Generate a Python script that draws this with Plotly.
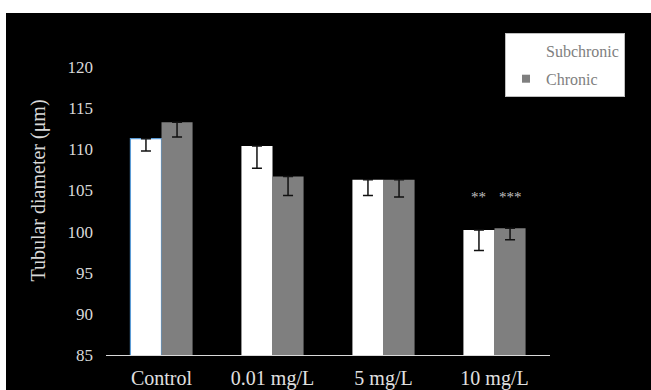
import plotly.graph_objects as go

categories = ["Control", "0.01 mg/L", "5 mg/L", "10 mg/L"]
subchronic = [111.3, 110.4, 106.3, 100.2]
subchronic_err = [1.5, 2.7, 1.9, 2.5]
chronic = [113.3, 106.7, 106.3, 100.4]
chronic_err = [1.8, 2.3, 2.1, 1.4]
sig_labels = ["**", "***"]
y_ticks = [85, 90, 95, 100, 105, 110, 115, 120]

FONT = "Liberation Serif"
L, R, T, B = 106, 101, 26, 35
W, H = 651, 390
pw, ph = W - L - R, H - T - B

fig = go.Figure()
fig.add_trace(go.Bar(
    name="Subchronic", x=categories, y=subchronic, showlegend=False,
    marker=dict(color="#ffffff",
                line=dict(color=["#5b9bd5", "rgba(0,0,0,0)", "rgba(0,0,0,0)", "rgba(0,0,0,0)"], width=1.2)),
    error_y=dict(type="data", symmetric=False, array=[0]*4, arrayminus=subchronic_err,
                 color="#111111", thickness=1.5, width=5),
))
fig.add_trace(go.Bar(
    name="Chronic", x=categories, y=chronic, showlegend=False,
    marker=dict(color="#7f7f7f", line=dict(width=0)),
    error_y=dict(type="data", symmetric=False, array=[0]*4, arrayminus=chronic_err,
                 color="#111111", thickness=1.5, width=5),
))
# legend entries
fig.add_trace(go.Scatter(x=[None], y=[None], name="Subchronic", mode="markers", legendgroup="a",
                         marker=dict(symbol="square", size=8, color="#ffffff")))
fig.add_trace(go.Scatter(x=[None], y=[None], name="Chronic", mode="markers", legendgroup="b",
                         marker=dict(symbol="square", size=8, color="#7f7f7f")))

# significance marks on 10 mg/L
for lab, shift in zip(sig_labels, [-16, 16]):
    fig.add_annotation(x=categories[3], y=104.2, text=lab, showarrow=False, xshift=shift,
                       font=dict(family=FONT, size=15, color="#c0c0c0"), yanchor="middle")

# white strips at top and left of the black panel
fig.add_shape(type="rect", xref="paper", yref="paper",
              x0=-L / pw - 0.05, x1=(W - L) / pw + 0.05,
              y0=(H - B - 13) / ph, y1=(H - B) / ph + 0.05,
              fillcolor="white", line=dict(width=0), layer="below")
fig.add_shape(type="rect", xref="paper", yref="paper",
              x0=-L / pw - 0.05, x1=(6 - L) / pw,
              y0=-B / ph - 0.05, y1=(H - B) / ph + 0.05,
              fillcolor="white", line=dict(width=0), layer="below")

fig.update_layout(
    width=W, height=H,
    margin=dict(l=L, r=R, t=T, b=B, pad=0),
    paper_bgcolor="black", plot_bgcolor="black",
    barmode="group", bargap=0.44, bargroupgap=0,
    font=dict(family=FONT, color="#d9d9d9"),
    showlegend=True,
    legend=dict(x=(505 - L) / pw, y=(H - B - 33) / ph, xanchor="left", yanchor="top",
                bgcolor="white", bordercolor="#bfbfbf", borderwidth=1,
                font=dict(family=FONT, size=16, color="#808080"),
                itemwidth=30, tracegroupgap=4, traceorder="grouped"),
    xaxis=dict(showline=True, linecolor="#d9d9d9", linewidth=1, ticks="", automargin=False,
               ticklabelstandoff=5,
               tickfont=dict(family=FONT, size=20, color="#e0e0e0"), showgrid=False),
    yaxis=dict(range=[85, 125], tickvals=y_ticks, showgrid=False, zeroline=False, automargin=False,
               showline=False, ticks="", ticklabelstandoff=12,
               tickfont=dict(family=FONT, size=17, color="#d9d9d9"),
               title=dict(text="Tubular diameter (μm)", standoff=16,
                          font=dict(family=FONT, size=20, color="#d9d9d9"))),
)

fig.write_html("out.html", config={"displayModeBar": False},
               post_script="document.body.style.margin='0px';document.body.style.background='black';")
